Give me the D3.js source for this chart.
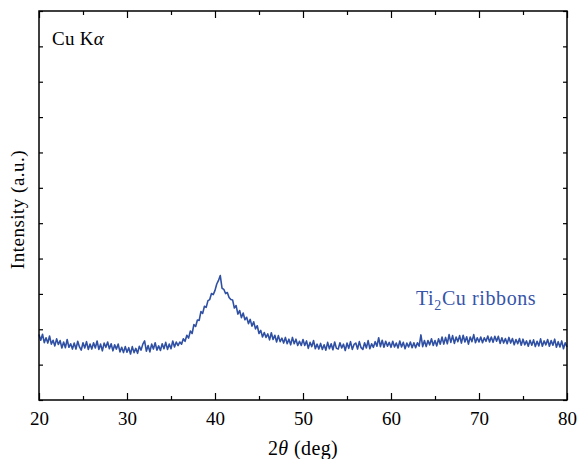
<!DOCTYPE html>
<html>
<head>
<meta charset="utf-8">
<script src="https://cdn.jsdelivr.net/npm/d3@7"></script>
<style>
  html, body { margin: 0; padding: 0; background: #fff; }
  svg { display: block; font-family: "Liberation Serif", "DejaVu Serif", serif; }
</style>
</head>
<body>
<svg id="chart" width="579" height="459"></svg>
<script>
// XRD scan of Ti2Cu ribbons, Cu Kα radiation, 0.2° step from 20° to 80°
const scanStart = 20;
const scanEnd = 80;
const scanStep = 0.2;

const intensity = [
  185, 169, 186, 162, 176, 161, 181, 158, 169, 153,
  173, 157, 168, 147, 164, 148, 171, 149, 159, 144,
  161, 144, 166, 150, 141, 162, 147, 165, 143, 158,
  144, 162, 147, 167, 143, 158, 139, 161, 149, 164,
  145, 159, 139, 156, 144, 158, 136, 149, 134, 151,
  135, 148, 130, 151, 134, 146, 132, 152, 141, 158,
  167, 138, 154, 136, 158, 144, 162, 141, 153, 140,
  159, 145, 163, 143, 158, 145, 167, 150, 164, 154,
  164, 158, 173, 166, 183, 175, 195, 188, 213, 208,
  226, 225, 250, 245, 265, 262, 281, 284, 301, 298,
  310, 328, 338, 352, 316, 313, 301, 304, 290, 284,
  283, 260, 267, 243, 253, 233, 246, 227, 234, 216,
  228, 209, 221, 201, 210, 188, 197, 178, 191, 177,
  187, 170, 190, 171, 183, 164, 182, 165, 175, 161,
  177, 159, 172, 156, 177, 159, 172, 154, 166, 154,
  171, 154, 167, 146, 163, 151, 168, 145, 158, 144,
  160, 143, 156, 141, 163, 145, 159, 142, 164, 146,
  144, 162, 147, 158, 140, 161, 146, 165, 143, 157,
  161, 144, 165, 148, 143, 162, 147, 168, 145, 159,
  149, 165, 152, 176, 151, 169, 149, 166, 152, 163,
  149, 166, 150, 161, 147, 167, 150, 163, 145, 161,
  150, 164, 148, 162, 148, 162, 152, 184, 151, 168,
  151, 168, 156, 173, 154, 168, 153, 173, 158, 178,
  158, 177, 159, 185, 163, 182, 160, 178, 165, 182,
  161, 183, 164, 179, 158, 178, 165, 185, 162, 176,
  164, 178, 162, 176, 166, 181, 164, 178, 163, 180,
  166, 180, 160, 176, 161, 174, 159, 177, 161, 174,
  156, 171, 159, 174, 155, 172, 156, 167, 152, 169,
  155, 170, 151, 166, 153, 173, 152, 167, 156, 171,
  152, 168, 155, 172, 149, 165, 150, 167, 145, 162,
  150
];

const xMajorTicks = [20, 30, 40, 50, 60, 70, 80];
const xMinorTicks = [25, 35, 45, 55, 65, 75];
const yTicks = [0, 100, 200, 300, 400, 500, 600, 700, 800, 900, 1000, 1100];

const angles = intensity.map((_, i) => +(scanStart + i * scanStep).toFixed(2));
const scan = angles.map((a, i) => ({ angle: a, counts: intensity[i] }));

const svg = d3.select("#chart");
const margin = { top: 11, right: 12, bottom: 59, left: 39 };
const W = 579, H = 459;
const innerW = W - margin.left - margin.right;
const innerH = H - margin.top - margin.bottom;

const x = d3.scaleLinear().domain([scanStart, scanEnd]).range([margin.left, margin.left + innerW]);
const y = d3.scaleLinear().domain([0, 1100]).range([margin.top + innerH, margin.top]);

const lineColor = "#3050a4";

// scan trace
svg.append("path")
  .datum(scan)
  .attr("fill", "none")
  .attr("stroke", lineColor)
  .attr("stroke-width", 1.6)
  .attr("stroke-linejoin", "round")
  .attr("d", d3.line().x(d => x(d.angle)).y(d => y(d.counts)));

// frame axes with inward ticks
function styleAxis(g) {
  g.select(".domain").remove();
  g.selectAll(".tick line").attr("stroke", "#000").attr("stroke-width", 1.2);
}

const bottomY = margin.top + innerH;
const topY = margin.top;

svg.append("g")
  .attr("transform", `translate(0,${bottomY})`)
  .call(d3.axisBottom(x).tickValues(xMajorTicks).tickSizeInner(-7).tickSizeOuter(0).tickPadding(12).tickFormat(d3.format("d")))
  .call(styleAxis)
  .call(g => g.selectAll("text").attr("fill", "#000").attr("font-size", 19).attr("font-family", "Liberation Serif, serif"));

svg.append("g")
  .attr("transform", `translate(0,${bottomY})`)
  .call(d3.axisBottom(x).tickValues(xMinorTicks).tickSizeInner(-4).tickSizeOuter(0).tickFormat(""))
  .call(styleAxis);

svg.append("g")
  .attr("transform", `translate(0,${topY})`)
  .call(d3.axisTop(x).tickValues(xMajorTicks).tickSizeInner(-7).tickSizeOuter(0).tickFormat(""))
  .call(styleAxis);

svg.append("g")
  .attr("transform", `translate(0,${topY})`)
  .call(d3.axisTop(x).tickValues(xMinorTicks).tickSizeInner(-4).tickSizeOuter(0).tickFormat(""))
  .call(styleAxis);

svg.append("g")
  .attr("transform", `translate(${margin.left},0)`)
  .call(d3.axisLeft(y).tickValues(yTicks).tickSizeInner(-4).tickSizeOuter(0).tickFormat(""))
  .call(styleAxis);

svg.append("g")
  .attr("transform", `translate(${margin.left + innerW},0)`)
  .call(d3.axisRight(y).tickValues(yTicks).tickSizeInner(-4).tickSizeOuter(0).tickFormat(""))
  .call(styleAxis);

svg.append("rect")
  .attr("x", margin.left)
  .attr("y", margin.top)
  .attr("width", innerW)
  .attr("height", innerH)
  .attr("fill", "none")
  .attr("stroke", "#000")
  .attr("stroke-width", 1.5);

// axis titles
const xTitle = svg.append("text")
  .attr("x", margin.left + innerW / 2)
  .attr("y", 455)
  .attr("text-anchor", "middle")
  .attr("font-size", 20)
  .attr("letter-spacing", 0.4)
  .attr("fill", "#000");
xTitle.append("tspan").text("2");
xTitle.append("tspan").attr("font-style", "italic").text("θ");
xTitle.append("tspan").text(" (deg)");

svg.append("text")
  .attr("transform", `translate(24,${margin.top + innerH / 2 + 4}) rotate(-90)`)
  .attr("text-anchor", "middle")
  .attr("font-size", 19)
  .attr("letter-spacing", 0.5)
  .attr("fill", "#000")
  .text("Intensity (a.u.)");

// annotations
const radiation = svg.append("text")
  .attr("x", 52)
  .attr("y", 45)
  .attr("font-size", 19)
  .attr("letter-spacing", 0.3)
  .attr("fill", "#000");
radiation.append("tspan").text("Cu K");
radiation.append("tspan").attr("font-style", "italic").text("α");

const sample = svg.append("text")
  .attr("x", 416)
  .attr("y", 305)
  .attr("font-size", 20)
  .attr("letter-spacing", 0.6)
  .attr("fill", "#3654a8");
sample.append("tspan").text("Ti");
sample.append("tspan").attr("font-size", 14).attr("dy", 5).text("2");
sample.append("tspan").attr("dy", -5).text("Cu ribbons");
</script>
</body>
</html>
